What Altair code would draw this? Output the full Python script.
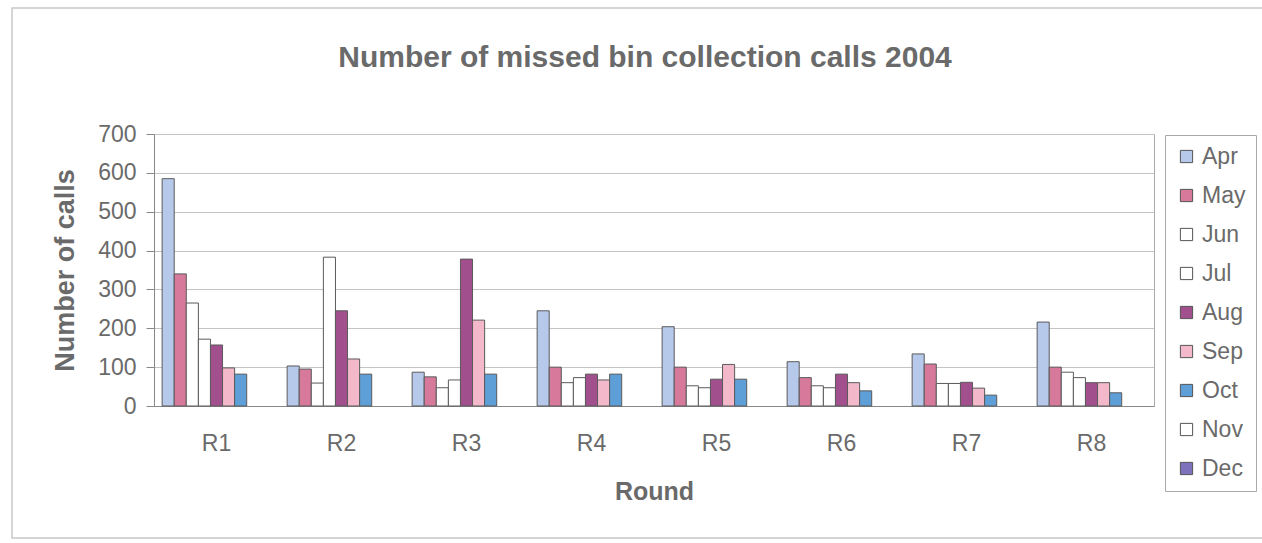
import altair as alt
import pandas as pd

rounds = ["R1", "R2", "R3", "R4", "R5", "R6", "R7", "R8"]
months = ["Apr", "May", "Jun", "Jul", "Aug", "Sep", "Oct", "Nov", "Dec"]

apr = [585, 103, 87, 245, 204, 114, 134, 216]
may = [340, 95, 75, 100, 100, 73, 108, 100]
jun = [265, 59, 47, 60, 52, 52, 58, 87]
jul = [172, 383, 67, 73, 47, 47, 58, 73]
aug = [157, 245, 378, 82, 69, 82, 61, 60]
sep = [98, 121, 221, 67, 107, 60, 46, 60]
oct_ = [82, 82, 82, 82, 69, 39, 28, 34]
nov = [0, 0, 0, 0, 0, 0, 0, 0]
dec = [0, 0, 0, 0, 0, 0, 0, 0]

series = [apr, may, jun, jul, aug, sep, oct_, nov, dec]
colors = ["#b7c9ea", "#d7799b", "#ffffff", "#ffffff", "#a24f8e",
          "#f4b8cb", "#5e9fd8", "#ffffff", "#7d72bb"]
y_ticks = [0, 100, 200, 300, 400, 500, 600, 700]

rows = []
for m, vals in zip(months, series):
    for r, v in zip(rounds, vals):
        if v > 0:
            rows.append({"Round": r, "Month": m, "Calls": v})
df = pd.DataFrame(rows)

FONT = "Liberation Sans"
TXT = "#6a6a6a"

bars = alt.Chart(df).mark_bar(stroke="#5a5a5a", strokeWidth=1).encode(
    x=alt.X("Round:N", sort=rounds,
            scale=alt.Scale(domain=rounds, paddingInner=0.13, paddingOuter=0.065),
            axis=alt.Axis(title="Round", labelAngle=0, ticks=False,
                          labelFontSize=23, labelPadding=26, labelColor=TXT,
                          titleFontSize=25, titleColor=TXT, titlePadding=24,
                          domainColor="#888")),
    xOffset=alt.XOffset("Month:N", sort=months,
                        scale=alt.Scale(domain=months, paddingInner=0, paddingOuter=0)),
    y=alt.Y("Calls:Q", scale=alt.Scale(domain=[0, 700], nice=False),
            axis=alt.Axis(title="Number of calls", values=y_ticks,
                          labelFontSize=23, labelColor=TXT, labelPadding=10,
                          tickSize=8, tickColor="#888", domainColor="#888",
                          titleFontSize=27, titleColor=TXT, titlePadding=18,
                          gridColor="#c4c4c4", gridWidth=1.2)),
    color=alt.Color("Month:N", sort=months,
                    scale=alt.Scale(domain=months, range=colors),
                    legend=alt.Legend(title=None, orient="none", legendX=1011, legendY=1,
                                      symbolType="square", symbolSize=150,
                                      symbolStrokeColor="#555", symbolStrokeWidth=1,
                                      labelFontSize=23, labelColor=TXT,
                                      rowPadding=15, padding=10,
                                      strokeColor="#aaa"))
)

frame = alt.Chart(alt.Data(values=[{}])).mark_rect(
    fill=None, stroke="#c8c8c8", strokeWidth=1.5
).encode(x=alt.value(-142), x2=alt.value(1112), y=alt.value(-126), y2=alt.value(404))

chart = alt.layer(frame, bars).properties(
    width=1000, height=272,
    autosize=alt.AutoSizeParams(type="none"),
    padding={"left": 154, "top": 134, "right": 108, "bottom": 137},
    title=alt.Title("Number of missed bin collection calls 2004", fontSize=30,
                    font=FONT, color=TXT, fontWeight="bold", anchor="middle",
                    dx=-9, offset=-66),
    background="white",
).configure(font=FONT).configure_view(stroke="#aaa")

chart.save("out.html", embed_options={"renderer": "svg", "actions": False})
